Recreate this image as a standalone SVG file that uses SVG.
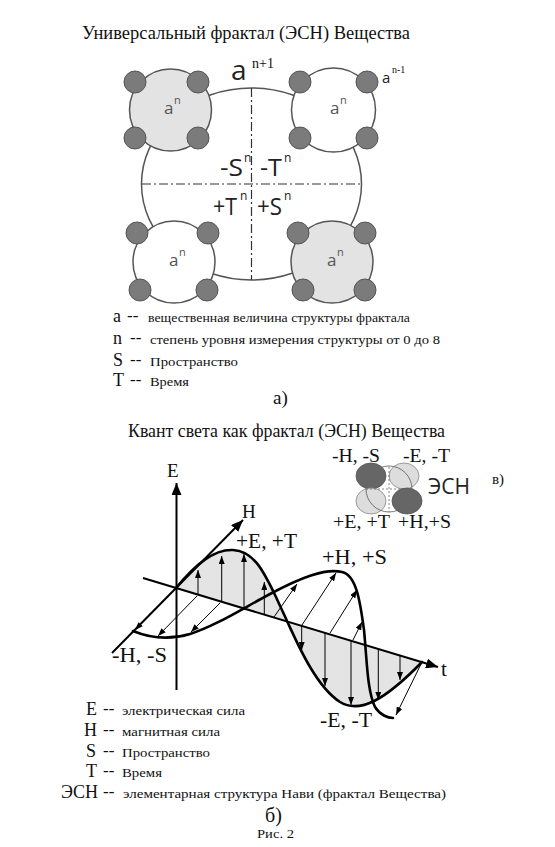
<svg xmlns="http://www.w3.org/2000/svg" width="555" height="847" viewBox="0 0 555 847">
<style>
.serif{font-family:"Liberation Serif","DejaVu Serif","Times New Roman",serif;fill:#111}
.sans{font-family:"Open Sans","Liberation Sans",sans-serif;fill:#222}
.cell{stroke:#555;stroke-width:1.5}
.sat{fill:#7b7b7b;stroke:#555;stroke-width:1}
.an{font-family:"Open Sans","Liberation Sans",sans-serif;fill:#555}
.dd{fill:none;stroke:#333;stroke-width:1.2;stroke-dasharray:9 3 2 3}
.axis{fill:none;stroke:#000;stroke-width:2}
.curve{fill:none;stroke:#000;stroke-width:2.6;stroke-linejoin:round;stroke-linecap:round}
.vec{stroke:#000;stroke-width:1;marker-end:url(#ah)}
.shade{fill:#e4e4e4;stroke:none}
</style>
<defs>
<marker id="ah" viewBox="0 0 8 6" refX="8" refY="3" markerWidth="8" markerHeight="6" markerUnits="userSpaceOnUse" orient="auto"><path d="M0,0 L8,3 L0,6 Z" fill="#000"/></marker>
<marker id="big" viewBox="0 0 12 10" refX="12" refY="5" markerWidth="12" markerHeight="10" markerUnits="userSpaceOnUse" orient="auto"><path d="M0,0 L12,5 L0,10 Z" fill="#000"/></marker>
</defs>
<rect width="555" height="847" fill="#fff"/>

<text class="serif" x="82" y="39" font-size="18" textLength="328" lengthAdjust="spacingAndGlyphs">Универсальный фрактал (ЭСН) Вещества</text>

<!-- a) fractal -->
<g id="fractal-main">
<ellipse cx="251.5" cy="184" rx="110" ry="96" fill="#fff" stroke="#555" stroke-width="1.5"/>
<line class="dd" x1="251.5" y1="88" x2="251.5" y2="280"/>
<line class="dd" x1="142" y1="184" x2="361" y2="184"/>
<text class="sans" x="220" y="176" font-size="23" textLength="23" lengthAdjust="spacingAndGlyphs">-S</text><text class="sans" x="244" y="162" font-size="12">n</text>
<text class="sans" x="260" y="176" font-size="23" textLength="22" lengthAdjust="spacingAndGlyphs">-T</text><text class="sans" x="284" y="162" font-size="12">n</text>
<text class="sans" x="213" y="215" font-size="23" textLength="24" lengthAdjust="spacingAndGlyphs">+T</text><text class="sans" x="240" y="200" font-size="12">n</text>
<text class="sans" x="257" y="215" font-size="23" textLength="25" lengthAdjust="spacingAndGlyphs">+S</text><text class="sans" x="284" y="200" font-size="12">n</text>
</g>
<g id="cell-tl">
<circle class="cell" cx="170.5" cy="110" r="41" fill="#e3e3e3"/>
<circle class="sat" cx="135" cy="82" r="11"/><circle class="sat" cx="198" cy="82" r="11"/>
<circle class="sat" cx="135" cy="138" r="11"/><circle class="sat" cx="198" cy="138" r="11"/>
<text class="an" x="164" y="114" font-size="17">a</text><text class="an" x="174" y="104" font-size="11">n</text>
</g>
<g id="cell-tr">
<circle class="cell" cx="333.5" cy="110" r="42" fill="#fff"/>
<circle class="sat" cx="300" cy="82" r="11"/><circle class="sat" cx="367" cy="82" r="11"/>
<circle class="sat" cx="300" cy="138" r="11"/><circle class="sat" cx="367" cy="138" r="11"/>
<text class="an" x="330" y="114" font-size="17">a</text><text class="an" x="340" y="104" font-size="11">n</text>
</g>
<g id="cell-bl">
<circle class="cell" cx="174" cy="262" r="41" fill="#fff"/>
<circle class="sat" cx="137" cy="233" r="11"/><circle class="sat" cx="208" cy="233" r="11"/>
<circle class="sat" cx="140" cy="290" r="11"/><circle class="sat" cx="207" cy="290" r="11"/>
<text class="an" x="169" y="266" font-size="17">a</text><text class="an" x="179" y="256" font-size="11">n</text>
</g>
<g id="cell-br">
<circle class="cell" cx="332" cy="262" r="41" fill="#e3e3e3"/>
<circle class="sat" cx="298" cy="233" r="11"/><circle class="sat" cx="365" cy="233" r="11"/>
<circle class="sat" cx="303" cy="290" r="11"/><circle class="sat" cx="365" cy="290" r="11"/>
<text class="an" x="327" y="266" font-size="17">a</text><text class="an" x="337" y="256" font-size="11">n</text>
</g>
<g id="labels-a">
<text class="sans" x="231" y="80" font-size="28">a</text><text class="serif" x="252" y="68" font-size="14">n+1</text>
<text class="sans" x="382" y="83" font-size="15" fill="#333">a</text><text class="serif" x="392" y="73" font-size="10">n-1</text>
</g>

<g id="legend-a">
<text class="serif" x="113" y="322" font-size="18">a</text><text class="serif" x="127" y="321" font-size="17">--</text>
<text class="serif" x="148" y="322" font-size="13.5" textLength="262" lengthAdjust="spacingAndGlyphs">вещественная величина структуры фрактала</text>
<text class="serif" x="113" y="344" font-size="18">n</text><text class="serif" x="130" y="343" font-size="17">--</text>
<text class="serif" x="150" y="344" font-size="13.5" textLength="290" lengthAdjust="spacingAndGlyphs">степень уровня измерения структуры от 0 до 8</text>
<text class="serif" x="113" y="366" font-size="18">S</text><text class="serif" x="130" y="365" font-size="17">--</text>
<text class="serif" x="150" y="366" font-size="13.5" textLength="88" lengthAdjust="spacingAndGlyphs">Пространство</text>
<text class="serif" x="113" y="386" font-size="18">T</text><text class="serif" x="130" y="385" font-size="17">--</text>
<text class="serif" x="150" y="386" font-size="13.5" textLength="39" lengthAdjust="spacingAndGlyphs">Время</text>
<text class="serif" x="273" y="404" font-size="19">а)</text>
</g>

<text class="serif" x="128" y="437" font-size="18" textLength="317" lengthAdjust="spacingAndGlyphs">Квант света как фрактал (ЭСН) Вещества</text>

<!-- в) ESN mini -->
<g id="esn-mini">
<ellipse cx="371" cy="476" rx="15" ry="13" fill="#666" stroke="#555" stroke-width="0.8"/>
<ellipse cx="404" cy="476" rx="15" ry="13" fill="#ddd" stroke="#888" stroke-width="0.8"/>
<ellipse cx="371" cy="501" rx="15" ry="13" fill="#ddd" stroke="#888" stroke-width="0.8"/>
<ellipse cx="407" cy="501" rx="15" ry="13" fill="#666" stroke="#555" stroke-width="0.8"/>
<circle cx="389" cy="489" r="23" fill="none" stroke="#666" stroke-width="0.9"/>
<line x1="389" y1="467" x2="389" y2="512" stroke="#666" stroke-width="0.8" stroke-dasharray="2 2"/>
<line x1="366" y1="489" x2="412" y2="489" stroke="#666" stroke-width="0.8" stroke-dasharray="2 2"/>
<text class="serif" x="332" y="462" font-size="18" textLength="48" lengthAdjust="spacingAndGlyphs">-H, -S</text>
<text class="serif" x="403" y="462" font-size="18" textLength="47" lengthAdjust="spacingAndGlyphs">-E, -T</text>
<text class="sans" x="428" y="494" font-size="21">ЭСН</text>
<text class="serif" x="492" y="484" font-size="15">в)</text>
<text class="serif" x="333" y="528" font-size="18" textLength="57" lengthAdjust="spacingAndGlyphs">+E, +T</text>
<text class="serif" x="398" y="528" font-size="18" textLength="53" lengthAdjust="spacingAndGlyphs">+H,+S</text>
</g>

<!-- б) wave -->
<g id="wave">
<path class="shade" d="M176,588 C196,564 214,549 233,550 C254,551 264,572 276,597 C280,606 284,614 287,621 Z"/>
<path class="shade" d="M287,621 C296,640 315,686 340,702 C360,714 385,700 422,662 Z"/>
<line class="axis" x1="176.5" y1="690" x2="176.5" y2="483" marker-end="url(#big)"/>
<line class="axis" x1="112" y1="653" x2="243" y2="520" marker-end="url(#big)"/>
<line class="axis" x1="143" y1="578" x2="438" y2="667" marker-end="url(#big)"/>
<g id="e-vectors">
<line class="vec" x1="198" y1="594.7" x2="198" y2="570"/>
<line class="vec" x1="221.7" y1="601.8" x2="221.7" y2="556"/>
<line class="vec" x1="244" y1="608.5" x2="244" y2="554"/>
<line class="vec" x1="264.3" y1="614.6" x2="264.3" y2="582"/>
<line class="vec" x1="301.7" y1="626" x2="301.7" y2="650"/>
<line class="vec" x1="325" y1="632.8" x2="325" y2="686"/>
<line class="vec" x1="351" y1="640.6" x2="351" y2="705"/>
<line class="vec" x1="378.3" y1="648.8" x2="378.3" y2="700"/>
<line class="vec" x1="400" y1="655.3" x2="400" y2="680"/>
</g>
<g id="h-vectors">
<line class="vec" x1="176" y1="588" x2="135" y2="630"/>
<line class="vec" x1="197" y1="596" x2="158" y2="636"/>
<line class="vec" x1="220" y1="603" x2="191" y2="632"/>
<line class="vec" x1="274" y1="617" x2="297" y2="584"/>
<line class="vec" x1="302" y1="625" x2="336" y2="573"/>
<line class="vec" x1="330" y1="633" x2="357" y2="590"/>
<line class="vec" x1="353" y1="640" x2="362" y2="622"/>
<line class="vec" x1="422" y1="662" x2="396" y2="715"/>
</g>
<path class="curve" d="M176,588 C196,564 214,549 233,550 C254,551 264,572 276,597 C280,606 284,614 287,621 C296,640 315,686 340,702 C360,714 385,700 422,662"/>
<path class="curve" d="M133,631 C150,638 170,640 190,634 C215,626 240,610 270,594 C300,578 325,568 342,572 C356,575 360,600 364,630 C367,660 367,690 375,707 C380,715 388,718 393,718"/>
<text class="serif" x="167" y="477" font-size="19">E</text>
<text class="serif" x="242" y="518" font-size="19">H</text>
<text class="serif" x="236" y="548" font-size="20" textLength="61" lengthAdjust="spacingAndGlyphs">+E, +T</text>
<text class="serif" x="322" y="564" font-size="20" textLength="65" lengthAdjust="spacingAndGlyphs">+H, +S</text>
<text class="serif" x="112" y="662" font-size="20" textLength="55" lengthAdjust="spacingAndGlyphs">-H, -S</text>
<text class="serif" x="320" y="727" font-size="20" textLength="52" lengthAdjust="spacingAndGlyphs">-E, -T</text>
<text class="serif" x="441" y="676" font-size="21">t</text>
</g>

<g id="legend-b">
<text class="serif" x="86" y="715" font-size="18">E</text><text class="serif" x="103" y="714" font-size="17">--</text>
<text class="serif" x="122" y="715" font-size="13.5" textLength="123" lengthAdjust="spacingAndGlyphs">электрическая сила</text>
<text class="serif" x="84" y="736" font-size="18">H</text><text class="serif" x="103" y="735" font-size="17">--</text>
<text class="serif" x="122" y="736" font-size="13.5" textLength="98" lengthAdjust="spacingAndGlyphs">магнитная сила</text>
<text class="serif" x="86" y="757" font-size="18">S</text><text class="serif" x="103" y="756" font-size="17">--</text>
<text class="serif" x="122" y="757" font-size="13.5" textLength="88" lengthAdjust="spacingAndGlyphs">Пространство</text>
<text class="serif" x="86" y="777" font-size="18">T</text><text class="serif" x="103" y="776" font-size="17">--</text>
<text class="serif" x="122" y="777" font-size="13.5" textLength="40" lengthAdjust="spacingAndGlyphs">Время</text>
<text class="serif" x="61" y="798" font-size="18" textLength="37" lengthAdjust="spacingAndGlyphs">ЭСН</text><text class="serif" x="103" y="797" font-size="17">--</text>
<text class="serif" x="123" y="798" font-size="13.5" textLength="323" lengthAdjust="spacingAndGlyphs">элементарная структура Нави (фрактал Вещества)</text>
<text class="serif" x="265" y="822" font-size="20">б)</text>
<text class="serif" x="257" y="838" font-size="13" textLength="37" lengthAdjust="spacingAndGlyphs">Рис. 2</text>
</g>
</svg>
